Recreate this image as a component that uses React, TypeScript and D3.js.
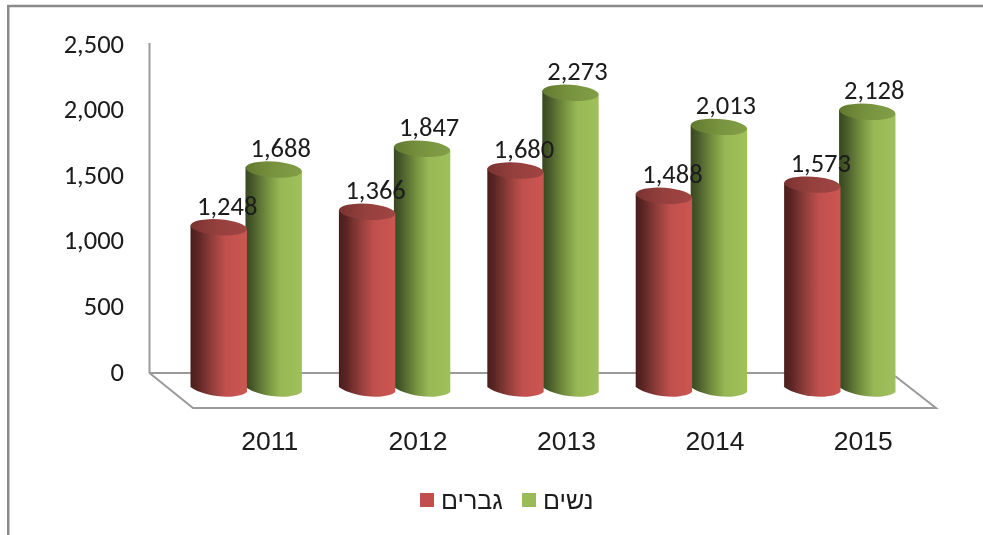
import React from "react";
import * as d3 from "d3";

const years = ["2011", "2012", "2013", "2014", "2015"];
const men = [1248, 1366, 1680, 1488, 1573];
const women = [1688, 1847, 2273, 2013, 2128];
const yTicks = [0, 500, 1000, 1500, 2000, 2500];
const seriesKeys = ["men", "women"];
const legendMen = "גברים";
const legendWomen = "נשים";

const W = 983, H = 535;
const fmt = d3.format(",");
const font = "Calibri, Carlito, Lato, 'Open Sans', sans-serif";
const arial = "'Liberation Sans', Arial, sans-serif";

const y = d3.scaleLinear().domain([0, 2500]).range([391, 63]);
const yLab = d3.scaleLinear().domain([0, 2500]).range([371.5, 43.5]);
const xBand = d3.scaleBand<string>().domain(years).range([172, 914]).paddingInner(0).paddingOuter(0);
const serBand = d3.scaleBand<string>().domain(seriesKeys).range([0, xBand.bandwidth()]).paddingInner(0).paddingOuter(0.35);

const rx = 28.2, ry = 8, tilt = 4;

function cyl(cx: number, top: number, base: number) {
  const p = d3.path();
  p.moveTo(cx - rx, top - 2);
  p.lineTo(cx - rx, base - 4);
  p.bezierCurveTo(cx - rx * 0.6, base + 5, cx + rx * 0.6, base + 10, cx + rx, base + 1);
  p.lineTo(cx + rx, top + 2);
  p.closePath();
  return p.toString();
}

function Cylinder({ cx, v, kind }: { cx: number; v: number; kind: string }) {
  const top = y(v), base = y(0);
  return (
    <g>
      <path d={cyl(cx, top, base)} fill={`url(#body-${kind})`} />
      <ellipse cx={cx} cy={top} rx={rx} ry={ry} transform={`rotate(${tilt} ${cx} ${top})`} fill={`url(#top-${kind})`} />
    </g>
  );
}

function BodyGrad({ id, stops }: { id: string; stops: [number, string][] }) {
  return (
    <linearGradient id={id} x1="0" x2="1" y1="0" y2="0">
      {stops.map(([o, c]) => <stop key={o} offset={o} stopColor={c} />)}
    </linearGradient>
  );
}

export default function App() {
  const floor = "M149.5,373 L193,408 L936,408 L895,376";
  const cx = (yr: string, k: string) => (xBand(yr) as number) + (serBand(k) as number) + serBand.bandwidth() / 2;
  return (
    <svg width={W} height={H} style={{ position: "fixed", left: 0, top: 0, background: "#fff" }}>
      <defs>
        <BodyGrad id="body-men" stops={[[0, "#4a1e1d"], [0.12, "#5a2524"], [0.4, "#95403d"], [0.62, "#c0504d"], [1, "#cc5552"]]} />
        <BodyGrad id="body-women" stops={[[0, "#38481f"], [0.12, "#47592a"], [0.4, "#779340"], [0.62, "#98b856"], [1, "#a0c05c"]]} />
        <BodyGrad id="top-men" stops={[[0, "#7a3331"], [0.5, "#96403e"], [1, "#a04543"]]} />
        <BodyGrad id="top-women" stops={[[0, "#62792f"], [0.5, "#78933f"], [1, "#829f46"]]} />
        <filter id="soft" filterUnits="userSpaceOnUse" x="0" y="0" width={W} height={H}><feGaussianBlur stdDeviation="0.45" /></filter>
      </defs>
      <rect x={8.25} y={6} width={W} height={H} fill="#fff" stroke="#8a8a8a" strokeWidth={2.5} />
      <g stroke="#9a9a9a" strokeWidth={2} fill="none">
        <line x1={149.5} y1={43} x2={149.5} y2={373} />
        <line x1={149.5} y1={373} x2={895} y2={373} />
        <path d={floor} />
      </g>
      <g filter="url(#soft)">
        {years.map((yr, i) => (
          <g key={yr}>
            <Cylinder cx={cx(yr, "women")} v={women[i]} kind="women" />
            <Cylinder cx={cx(yr, "men")} v={men[i]} kind="men" />
          </g>
        ))}
        <g fontFamily={font} fontSize={26.5} fill="#1a1a1a">
          {yTicks.map(t => (
            <text key={t} x={124} y={yLab(t)} textAnchor="end" dominantBaseline="central">{fmt(t)}</text>
          ))}
          {years.map((yr, i) => (
            <g key={yr} textAnchor="middle">
              <text x={cx(yr, "men") + 8.5} y={y(men[i]) - 21.5} dominantBaseline="central">{fmt(men[i])}</text>
              <text x={cx(yr, "women") + 7} y={y(women[i]) - 21.5} dominantBaseline="central">{fmt(women[i])}</text>
            </g>
          ))}
        </g>
        <g fontFamily={arial} fontSize={26.5} fill="#1a1a1a" textAnchor="middle">
          {years.map(yr => (
            <text key={yr} x={(xBand(yr) as number) + xBand.bandwidth() / 2 + 23.5} y={441} dominantBaseline="central">{yr}</text>
          ))}
        </g>
        <rect x={420} y={493} width={14} height={14} fill="#c0504d" />
        <text x={441} y={500} fontFamily={arial} fontSize={25} fill="#1a1a1a" textAnchor="end" dominantBaseline="central" style={{ direction: "rtl" }}>{legendMen}</text>
        <rect x={522} y={493} width={14} height={14} fill="#9bbb59" />
        <text x={543} y={500} fontFamily={arial} fontSize={25} fill="#1a1a1a" textAnchor="end" dominantBaseline="central" style={{ direction: "rtl" }}>{legendWomen}</text>
      </g>
    </svg>
  );
}
